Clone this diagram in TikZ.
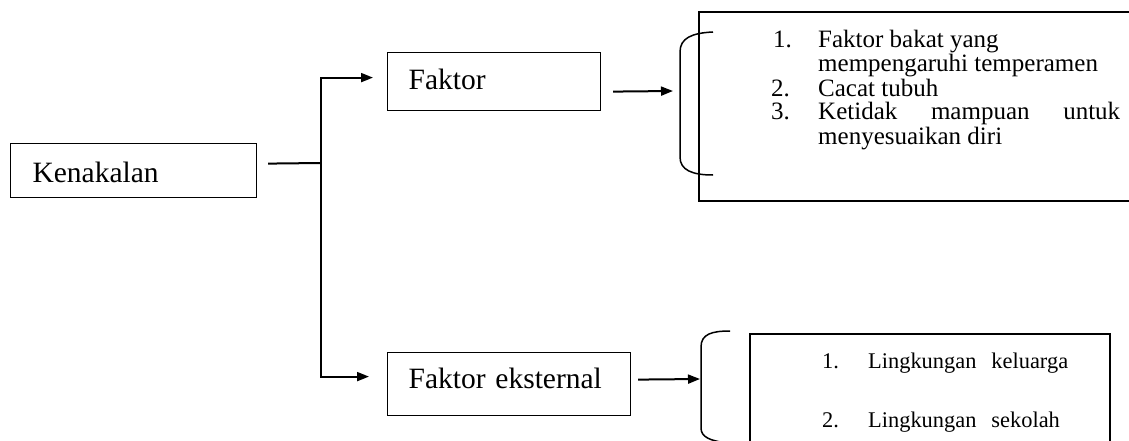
\documentclass[tikz,border=0pt]{standalone}
\usepackage{fontspec}
\setmainfont{Liberation Serif}
\usetikzlibrary{arrows.meta}
\begin{document}
\begin{tikzpicture}[x=1pt,y=-1pt,
  box/.style={draw, line width=1.2pt, inner ysep=0pt, align=left, font=\fontsize{29.5}{34}\selectfont},
  conn/.style={line width=2pt},
  arr/.style={conn, -{Triangle[length=12pt,width=9pt]}},
  brace/.style={line width=1.5pt},
  frame/.style={line width=1.2pt},
  item/.style={anchor=base west, inner sep=0pt, font=\fontsize{25}{30}\selectfont},
  itemb/.style={anchor=base west, inner sep=0pt, font=\fontsize{22.4}{27}\selectfont}]
\useasboundingbox (0,0) rectangle (1129,441);

% main boxes
\node[box, anchor=north west, inner xsep=22pt, text width=202pt, minimum height=54pt, text height=23.4pt, text depth=0pt] (ken) at (10,143) {Kenakalan};
\node[box, anchor=north west, inner xsep=21pt, text width=171pt, minimum height=58pt, text height=20pt, text depth=3.4pt] (fak) at (387,52) {Faktor};
\node[box, anchor=north west, inner xsep=21pt, text width=201pt, minimum height=63pt, text height=20pt, text depth=11pt] (fe) at (387,352) {Faktor eksternal};

% junction and brace targets
\coordinate (j) at (320.5,163);
\coordinate (b1) at (680,91);
\coordinate (b2) at (701,379);

% connectors
\draw[conn] ([shift={(11,-7)}]ken.east) -- (j);
\draw[arr] (j) |- ([shift={(-14,-4)}]fak.west);
\draw[arr] (j) |- ([shift={(-18,-7.5)}]fe.west);
\draw[arr] ([shift={(12,10)}]fak.east) -- ([shift={(-7,0)}]b1);
\draw[arr] ([shift={(7,-4.5)}]fe.east) -- ([shift={(-1,0)}]b2);

% braces
\draw[brace] (713,32) .. controls (692,33) and (680,38) .. (680,52) -- (680,157) .. controls (680,170) and (692,175) .. (713,175);
\draw[brace] (730,331) .. controls (712,331) and (701,334) .. (701,347) -- (701,428) .. controls (701,437) and (710,441) .. (728,443);

% list frames (cut by the page edge)
\draw[frame] (1140,12) -- (699,12) -- (699,201) -- (1140,201);
\draw[frame] (750,450) -- (750,334) -- (1110,334) -- (1110,450);

% top list
\node[item] (a1) at (773,48) {\makebox[45pt][l]{1.}Faktor bakat yang};
\node[item] (a2) at (818,72) {mempengaruhi temperamen};
\node[item] (a3) at (771,97) {\makebox[47pt][l]{2.}Cacat tubuh};
\node[item] (a4) at (771,120) {\makebox[47pt][l]{3.}\makebox[302pt][s]{Ketidak\hfill mampuan\hfill untuk}};
\node[item] (a5) at (818,145) {menyesuaikan diri};

% bottom list
\node[itemb] (c1) at (822,368) {\makebox[46pt][l]{1.}Lingkungan\hspace{15pt}keluarga};
\node[itemb] (c2) at (822,427) {\makebox[46pt][l]{2.}Lingkungan\hspace{15pt}sekolah};
\end{tikzpicture}
\end{document}
